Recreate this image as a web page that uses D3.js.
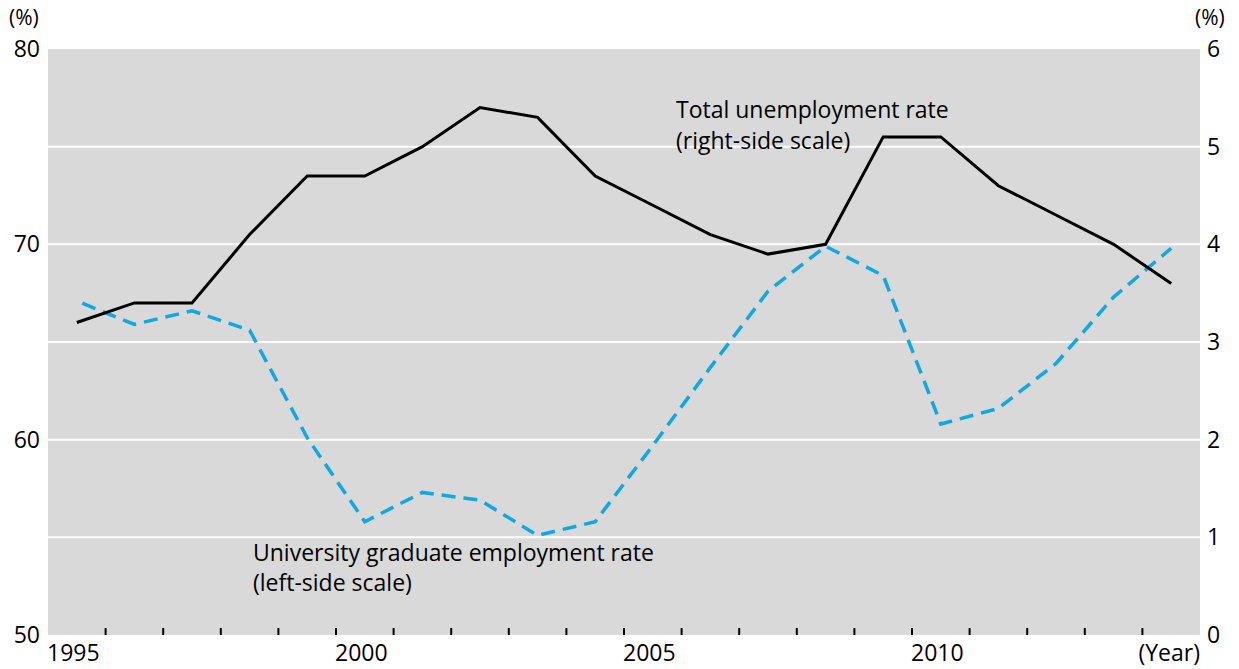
<!DOCTYPE html>
<html>
<head>
<meta charset="utf-8">
<script src="https://cdn.jsdelivr.net/npm/d3@7"></script>
<style>
  html,body{margin:0;padding:0;background:#fff;}
  svg text{font-family:"Open Sans",sans-serif;fill:#000;}
</style>
</head>
<body>
<svg id="chart" width="1239" height="669"></svg>
<script>
// --- data ---------------------------------------------------------------
const years        = d3.range(1995, 2015);
const unemployment = [3.2,3.4,3.4,4.1,4.7,4.7,5.0,5.4,5.3,4.7,4.4,4.1,3.9,4.0,5.1,5.1,4.6,4.3,4.0,3.6];
const gradEmploy   = [67.1,65.9,66.6,65.6,60.1,55.8,57.3,56.9,55.1,55.8,59.7,63.7,67.6,69.9,68.4,60.8,61.6,63.9,67.3,69.8];
const leftTicks    = [50,60,70,80];
const rightTicks   = [0,1,2,3,4,5,6];
const yearLabels   = [1995,2000,2005,2010];

// --- layout -------------------------------------------------------------
const L = 48, R = 1200, T = 49, B = 635;
const svg = d3.select('#chart');

const x  = d3.scaleLinear().domain([1995, 2015]).range([L, R]);
const yL = d3.scaleLinear().domain([50, 80]).range([B, T]);
const yR = d3.scaleLinear().domain([0, 6]).range([B, T]);

svg.append('rect')
  .attr('x', L).attr('y', T).attr('width', R - L).attr('height', B - T)
  .attr('fill', '#d9d9d9');

// white grid lines (one per right-scale unit)
svg.append('g').selectAll('line')
  .data(rightTicks.slice(1, -1)).join('line')
    .attr('x1', L).attr('x2', R)
    .attr('y1', d => yR(d)).attr('y2', d => yR(d))
    .attr('stroke', '#fff').attr('stroke-width', 2);

// inward year ticks
svg.append('g').selectAll('line')
  .data(d3.range(1996, 2015)).join('line')
    .attr('x1', d => x(d)).attr('x2', d => x(d))
    .attr('y1', B - 7).attr('y2', B)
    .attr('stroke', '#000').attr('stroke-width', 2);

// axis labels
const FS = 23;
svg.append('g').selectAll('text')
  .data(leftTicks).join('text')
    .attr('x', 40).attr('y', d => yL(d)).attr('dy', '0.35em')
    .attr('text-anchor', 'end').attr('font-size', FS)
    .text(d => d);

svg.append('g').selectAll('text')
  .data(rightTicks).join('text')
    .attr('x', 1207).attr('y', d => yR(d)).attr('dy', '0.35em')
    .attr('font-size', FS)
    .text(d => d);

svg.append('text').attr('x', 9).attr('y', 25).attr('font-size', 21).text('(%)');
svg.append('text').attr('x', 1195).attr('y', 25).attr('font-size', 21).text('(%)');

svg.append('g').selectAll('text')
  .data(yearLabels).join('text')
    .attr('x', d => x(d) - 1).attr('y', 661)
    .attr('font-size', FS)
    .text(d => d);
svg.append('text').attr('x', 1200).attr('y', 661)
  .attr('text-anchor', 'end').attr('font-size', FS).text('(Year)');

// --- lines --------------------------------------------------------------
const lineR = d3.line().x((d, i) => x(years[i] + 0.5)).y(d => yR(d));
const lineL = d3.line().x((d, i) => x(years[i] + 0.5)).y(d => yL(d));

svg.append('path').datum(gradEmploy)
  .attr('d', lineL).attr('fill', 'none')
  .attr('stroke', '#0ea8e4').attr('stroke-width', 3.5)
  .attr('stroke-dasharray', '14,8').attr('stroke-dashoffset', -6);

svg.append('path').datum(unemployment)
  .attr('d', lineR).attr('fill', 'none')
  .attr('stroke', '#000').attr('stroke-width', 3)
  .attr('stroke-linejoin', 'miter');

// --- annotations --------------------------------------------------------
const AFS = 23;
const ann = [
  {x: 676, y: 118, t: 'Total unemployment rate'},
  {x: 676, y: 149, t: '(right-side scale)'},
  {x: 253, y: 561, t: 'University graduate employment rate'},
  {x: 253, y: 591, t: '(left-side scale)'}
];
svg.append('g').selectAll('text')
  .data(ann).join('text')
    .attr('x', d => d.x).attr('y', d => d.y)
    .attr('font-size', AFS)
    .text(d => d.t);
</script>
</body>
</html>
